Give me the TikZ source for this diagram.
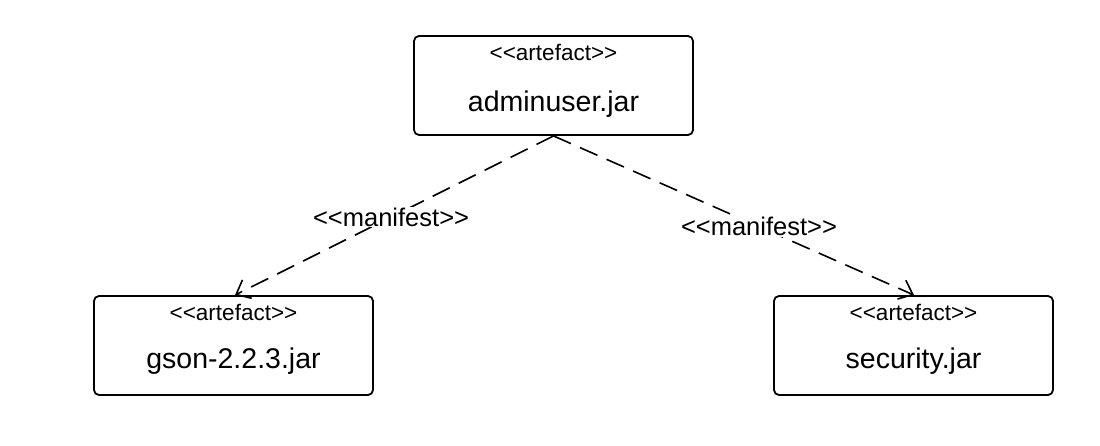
\documentclass[tikz,border=0pt]{standalone}
\usepackage{fontspec}
\setmainfont{Liberation Sans}[Ligatures=TeXOff]
\usetikzlibrary{arrows.meta}
\begin{document}
\begin{tikzpicture}[x=1pt,y=-1pt,
  artbox/.style={draw=black, line width=1.8pt, rounded corners=5pt, minimum width=279pt, minimum height=99pt, inner sep=0pt},
  stereo/.style={font=\fontsize{22.5}{26}\selectfont, inner sep=0pt},
  mainlbl/.style={font=\fontsize{28.5}{32}\selectfont, inner sep=0pt},
  dep/.style={line width=1.6pt, dash pattern=on 19pt off 10pt, -{Straight Barb[angle=80:16pt, line width=1.6pt]}},
  deplbl/.style={fill=white, inner sep=1pt, font=\fontsize{25.5}{29}\selectfont}]
\useasboundingbox (0,0) rectangle (1100,446);
\node[artbox] (top) at (553.5,85.5) {};
\node[stereo] (topst) at ([yshift=-17pt]top.north) {<<artefact>>};
\node[mainlbl] (topmn) at ([yshift=-69pt]top.north) {adminuser.jar};
\node[artbox] (gson) at (233.5,345.5) {};
\node[stereo] (gsonst) at ([yshift=-17pt]gson.north) {<<artefact>>};
\node[mainlbl] (gsonmn) at ([yshift=-66pt]gson.north) {gson-2.2.3.jar};
\node[artbox] (sec) at (913.5,345.5) {};
\node[stereo] (secst) at ([yshift=-17pt]sec.north) {<<artefact>>};
\node[mainlbl] (secmn) at ([yshift=-66pt]sec.north) {security.jar};
\draw[dep] (top.south) -- node[deplbl, pos=0.51] {<<manifest>>} ([xshift=1.5pt]gson.north);
\draw[dep] (top.south) -- node[deplbl, pos=0.57] {<<manifest>>} ([xshift=0.5pt]sec.north);
\end{tikzpicture}
\end{document}
